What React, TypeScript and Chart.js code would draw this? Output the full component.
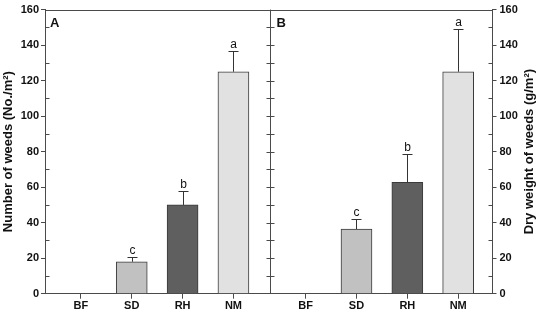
import React, { useEffect, useRef } from 'react';
import { Chart, registerables } from 'chart.js';

Chart.register(...registerables);

// Treatments shown in each panel
const TREATMENTS = ['BF', 'SD', 'RH', 'NM'];

// Panel A: weed density (No./m²), mean and standard error
const WEED_COUNT = [0, 18, 50, 125];
const WEED_COUNT_SE = [0, 2.8, 7.8, 11.8];
const WEED_COUNT_LETTERS = ['', 'c', 'b', 'a'];

// Panel B: weed dry weight (g/m²), mean and standard error
const DRY_WEIGHT = [0, 36.4, 62.7, 125];
const DRY_WEIGHT_SE = [0, 5.5, 15.7, 24.1];
const DRY_WEIGHT_LETTERS = ['', 'c', 'b', 'a'];

// Shared value axis
const Y_MIN = 0;
const Y_MAX = 160;
const Y_STEP = 20;
const Y_MINOR_STEP = 10;

// Fill of each treatment's bar
const BAR_FILLS = ['#ffffff', '#c1c1c1', '#5f5f5f', '#e1e1e1'];

// x positions: panel A at 0..3, panel B shifted to the right of the divider
const PANEL_B_SHIFT = 4.42;
const X_MIN = -0.706;
const X_MAX = 8.095;
const X_DIVIDER = 3.714;

const AXIS_COLOR = '#4a4a4a';
const TEXT_COLOR = '#111111';
const FONT = '"Liberation Sans", Arial, sans-serif';

const POS_A = TREATMENTS.map((_, i) => i);
const POS_B = TREATMENTS.map((_, i) => i + PANEL_B_SHIFT);
const ALL_POS = [...POS_A, ...POS_B];

const PANEL_SE = [WEED_COUNT_SE, DRY_WEIGHT_SE];
const PANEL_LETTERS = [WEED_COUNT_LETTERS, DRY_WEIGHT_LETTERS];

function labelAt(v: number): string {
  const i = ALL_POS.findIndex((p) => Math.abs(p - v) < 0.01);
  return i < 0 ? '' : TREATMENTS[i % TREATMENTS.length];
}

const panelDecor = {
  id: 'panelDecor',
  afterDatasetsDraw(chart: any) {
    const { ctx, chartArea, scales } = chart;
    const { left, right, top, bottom } = chartArea;
    const yA = scales.y;
    const divX = Math.round(scales.x.getPixelForValue(X_DIVIDER)) + 0.5;

    ctx.save();
    ctx.lineWidth = 1;

    // error bars and significance letters
    chart.data.datasets.forEach((ds: any, di: number) => {
      const meta = chart.getDatasetMeta(di);
      const se = PANEL_SE[di];
      const letters = PANEL_LETTERS[di];
      meta.data.forEach((bar: any, i: number) => {
        if (!se[i]) return;
        const val = ds.data[i].y;
        const yScale = scales[ds.yAxisID];
        const yBar = yScale.getPixelForValue(val);
        const yCap = Math.round(yScale.getPixelForValue(val + se[i])) + 0.5;
        const cx = Math.round(bar.x) + 0.5;
        ctx.strokeStyle = '#333333';
        ctx.beginPath();
        ctx.moveTo(cx, yBar);
        ctx.lineTo(cx, yCap);
        ctx.moveTo(cx - 5, yCap);
        ctx.lineTo(cx + 5, yCap);
        ctx.stroke();
        ctx.fillStyle = TEXT_COLOR;
        ctx.font = `12px ${FONT}`;
        ctx.textAlign = 'center';
        ctx.textBaseline = 'bottom';
        ctx.fillText(letters[i], cx, yCap - 1);
      });
    });

    // frame: top border and panel divider
    ctx.strokeStyle = AXIS_COLOR;
    ctx.beginPath();
    ctx.moveTo(left, Math.round(top) + 0.5);
    ctx.lineTo(right, Math.round(top) + 0.5);
    ctx.moveTo(divX, top);
    ctx.lineTo(divX, bottom);
    ctx.stroke();

    // minor ticks inside the outer axes, ticks on both sides of the divider
    const lx = Math.round(left) + 0.5;
    const rx = Math.round(right) - 0.5;
    ctx.beginPath();
    for (let v = Y_MIN + Y_MINOR_STEP; v < Y_MAX; v += Y_MINOR_STEP) {
      const py = Math.round(yA.getPixelForValue(v)) + 0.5;
      if (v % Y_STEP !== 0) {
        ctx.moveTo(lx, py);
        ctx.lineTo(lx + 4, py);
        ctx.moveTo(rx, py);
        ctx.lineTo(rx - 4, py);
      }
      ctx.moveTo(divX - 4, py);
      ctx.lineTo(divX + 4, py);
    }
    ctx.stroke();

    // panel letters
    ctx.fillStyle = TEXT_COLOR;
    ctx.font = `bold 13px ${FONT}`;
    ctx.textAlign = 'left';
    ctx.textBaseline = 'top';
    ctx.fillText('A', left + 5, top + 7);
    ctx.fillText('B', divX + 6, top + 7);

    // right-hand axis title, reading bottom to top
    ctx.font = `bold 13px ${FONT}`;
    ctx.textAlign = 'center';
    ctx.textBaseline = 'middle';
    ctx.translate(529, (top + bottom) / 2);
    ctx.rotate(-Math.PI / 2);
    ctx.fillText('Dry weight of weeds (g/m²)', 0, 0);
    ctx.restore();
  },
};

export default function App() {
  const canvasRef = useRef<HTMLCanvasElement | null>(null);

  useEffect(() => {
    const canvas = canvasRef.current;
    if (!canvas) return;

    const tickFont = { family: FONT, size: 11, weight: 'bold' as const };

    const chart = new Chart(canvas, {
      type: 'bar',
      data: {
        datasets: [
          {
            label: 'Number of weeds',
            data: WEED_COUNT.map((v, i) => ({ x: POS_A[i], y: v })),
            yAxisID: 'y',
            backgroundColor: BAR_FILLS,
            borderColor: '#3a3a3a',
            borderWidth: 1,
            barThickness: 31,
            grouped: false,
          },
          {
            label: 'Dry weight of weeds',
            data: DRY_WEIGHT.map((v, i) => ({ x: POS_B[i], y: v })),
            yAxisID: 'y2',
            backgroundColor: BAR_FILLS,
            borderColor: '#3a3a3a',
            borderWidth: 1,
            barThickness: 31,
            grouped: false,
          },
        ],
      },
      options: {
        animation: false,
        responsive: false,
        devicePixelRatio: 1,
        layout: { padding: { top: 6, left: 0, right: 0, bottom: 0 } },
        plugins: {
          legend: { display: false },
          tooltip: { enabled: false },
        },
        scales: {
          x: {
            type: 'linear',
            min: X_MIN,
            max: X_MAX,
            offset: false,
            afterBuildTicks: (s: any) => {
              s.ticks = ALL_POS.map((v) => ({ value: v }));
            },
            afterFit: (s: any) => {
              s.height = 22.3;
            },
            ticks: {
              callback: (v: any) => labelAt(Number(v)),
              font: tickFont,
              color: TEXT_COLOR,
              padding: 1,
              maxRotation: 0,
              autoSkip: false,
            },
            grid: {
              drawOnChartArea: false,
              drawTicks: true,
              tickLength: 5,
              color: AXIS_COLOR,
              offset: false,
            },
            border: { display: true, color: AXIS_COLOR, width: 1 },
          },
          y: {
            position: 'left',
            min: Y_MIN,
            max: Y_MAX,
            afterFit: (s: any) => {
              s.width = 45;
            },
            ticks: { stepSize: Y_STEP, font: tickFont, color: TEXT_COLOR, padding: 2 },
            grid: { drawOnChartArea: false, drawTicks: true, tickLength: 4, color: AXIS_COLOR },
            border: { display: true, color: AXIS_COLOR, width: 1 },
            title: {
              display: true,
              text: 'Number of weeds (No./m²)',
              color: TEXT_COLOR,
              font: { family: FONT, size: 13, weight: 'bold' },
              padding: { top: 1, bottom: 0 },
            },
          },
          y2: {
            position: 'right',
            min: Y_MIN,
            max: Y_MAX,
            afterFit: (s: any) => {
              s.width = 55.5;
            },
            ticks: { stepSize: Y_STEP, font: tickFont, color: TEXT_COLOR, padding: 3 },
            grid: { drawOnChartArea: false, drawTicks: true, tickLength: 4, color: AXIS_COLOR },
            border: { display: true, color: AXIS_COLOR, width: 1 },
          },
        },
      },
      plugins: [panelDecor],
    });

    return () => chart.destroy();
  }, []);

  return (
    <div style={{ position: 'absolute', left: 0, top: 0, width: 548, height: 316, background: '#ffffff' }}>
      <canvas ref={canvasRef} width={548} height={316} style={{ display: 'block' }} />
    </div>
  );
}
